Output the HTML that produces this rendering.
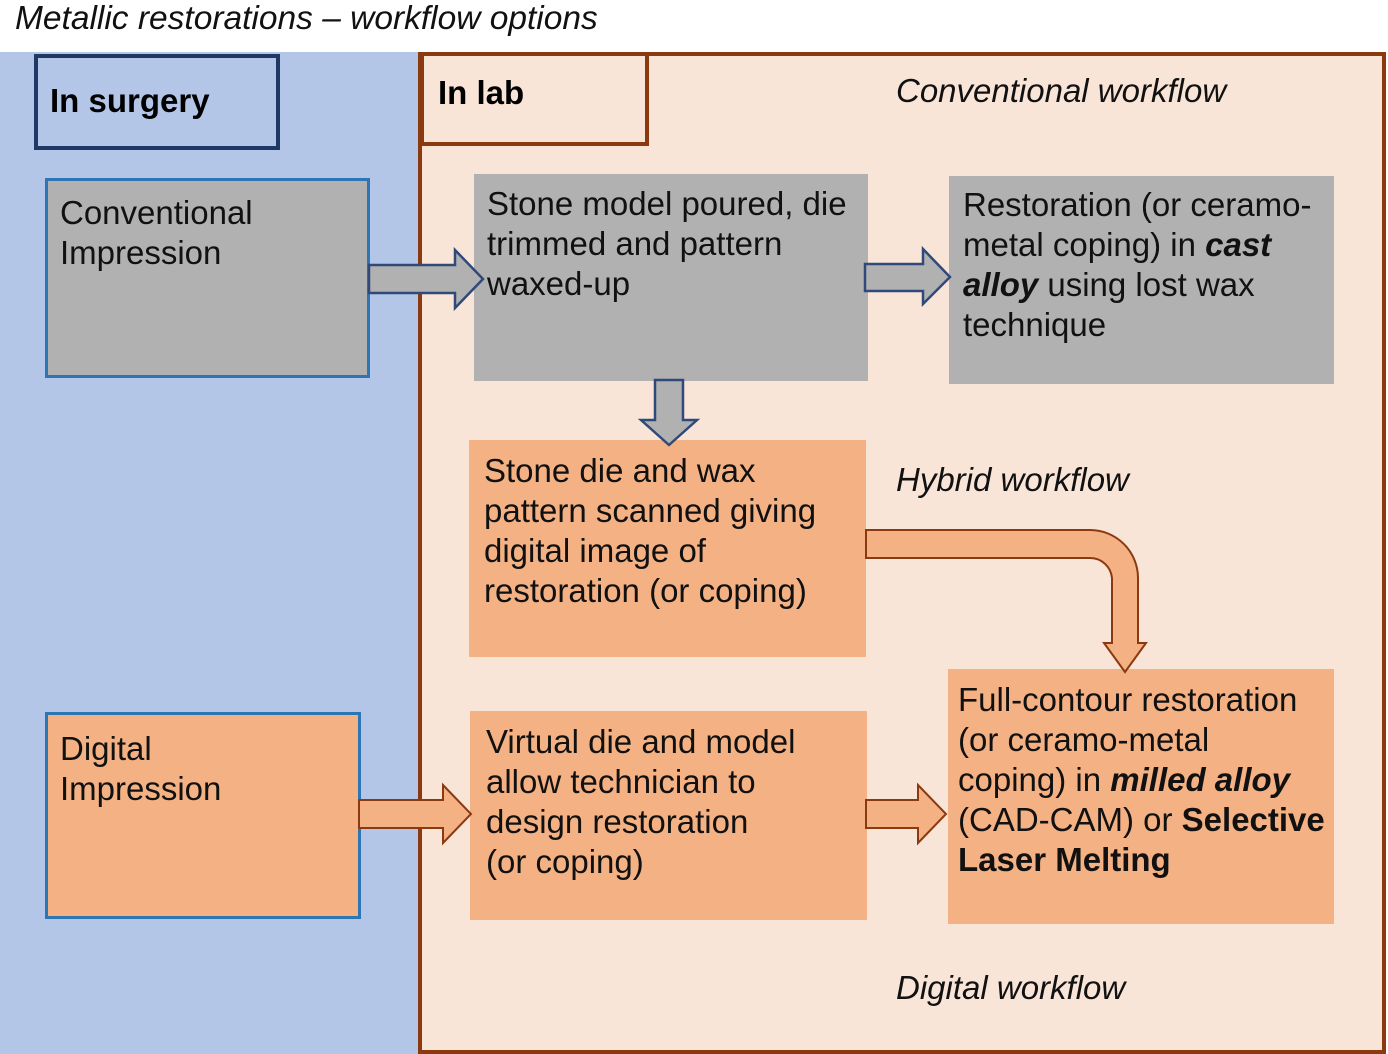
<!DOCTYPE html>
<html><head><style>
body{margin:0;width:1388px;height:1054px;position:relative;background:#fff;font-family:"Liberation Sans",sans-serif;overflow:hidden}
div{position:absolute;box-sizing:border-box}
.t{font-size:33px;line-height:40px;color:#111;padding:8px 0 0 13px;white-space:nowrap}
.g{background:#b0b1b0}.o{background:#f4b183}
.i{font-style:italic;font-size:33px;color:#111;white-space:nowrap}
</style></head><body>
<div class="i" style="left:15px;top:0px;line-height:38px;font-size:33.5px">Metallic restorations – workflow options</div>
<div style="left:0;top:52px;width:420px;height:1002px;background:#b4c6e7"></div>
<div style="left:418px;top:52px;width:968px;height:1002px;background:#f9e5d8;border:4px solid #8b3a0f"></div>
<div style="left:34px;top:54px;width:246px;height:96px;border:4px solid #1f3864;font-weight:bold;font-size:33px;padding:24px 0 0 12px">In surgery</div>
<div style="left:420px;top:52px;width:229px;height:94px;border:4px solid #8b3a0f;font-weight:bold;font-size:33px;padding:18px 0 0 14px">In lab</div>
<div class="i" style="left:896px;top:72px">Conventional workflow</div>
<div class="i" style="left:896px;top:461px">Hybrid workflow</div>
<div class="i" style="left:896px;top:969px">Digital workflow</div>
<div class="t g" style="left:45px;top:178px;width:325px;height:200px;border:3px solid #2e75b6;padding:12px 0 0 12px">Conventional<br>Impression</div>
<div class="t g" style="left:474px;top:174px;width:394px;height:207px;padding-top:10px">Stone model poured, die<br>trimmed and pattern<br>waxed-up</div>
<div class="t g" style="left:949px;top:176px;width:385px;height:208px;padding-left:14px;padding-top:9px">Restoration (or ceramo-<br>metal coping) in <b><i>cast</i></b><br><b><i>alloy</i></b> using lost wax<br>technique</div>
<div class="t o" style="left:469px;top:440px;width:397px;height:217px;padding-top:11px;padding-left:15px">Stone die and wax<br>pattern scanned giving<br>digital image of<br>restoration (or coping)</div>
<div class="t o" style="left:45px;top:712px;width:316px;height:207px;border:3px solid #2e75b6;padding:14px 0 0 12px">Digital<br>Impression</div>
<div class="t o" style="left:470px;top:711px;width:397px;height:209px;padding-top:11px;padding-left:16px">Virtual die and model<br>allow technician to<br>design restoration<br>(or coping)</div>
<div class="t o" style="left:948px;top:669px;width:386px;height:255px;padding-top:11px;padding-left:10px">Full-contour restoration<br>(or ceramo-metal<br>coping) in <b><i>milled alloy</i></b><br>(CAD-CAM) or <b>Selective</b><br><b>Laser Melting</b></div>
<svg width="1388" height="1054" style="position:absolute;left:0;top:0">
<g fill="#b0b1b0" stroke="#2f4a7a" stroke-width="2.5">
<path d="M369,265 H455 V250 L483,279 L455,308 V293 H369 Z"/>
<path d="M865,264 H923 V249 L950,277 L923,304 V291 H865 Z"/>
<path d="M655,380 H683 V420 H697 L669,445 L641,420 H655 Z"/>
</g>
<g fill="#f4b183" stroke="#8b3a0f" stroke-width="2">
<path d="M359,800 H443 V785 L471,814 L443,843 V828 H359 Z"/>
<path d="M866,800 H918 V785 L946,814 L918,843 V828 H866 Z"/>
<path d="M866,530 H1090 A48,48 0 0 1 1138,578 V643 H1146 L1125,672 L1104,643 H1112 V578 A22,22 0 0 0 1090,558 H866 Z"/>
</g>
</svg>
</body></html>
